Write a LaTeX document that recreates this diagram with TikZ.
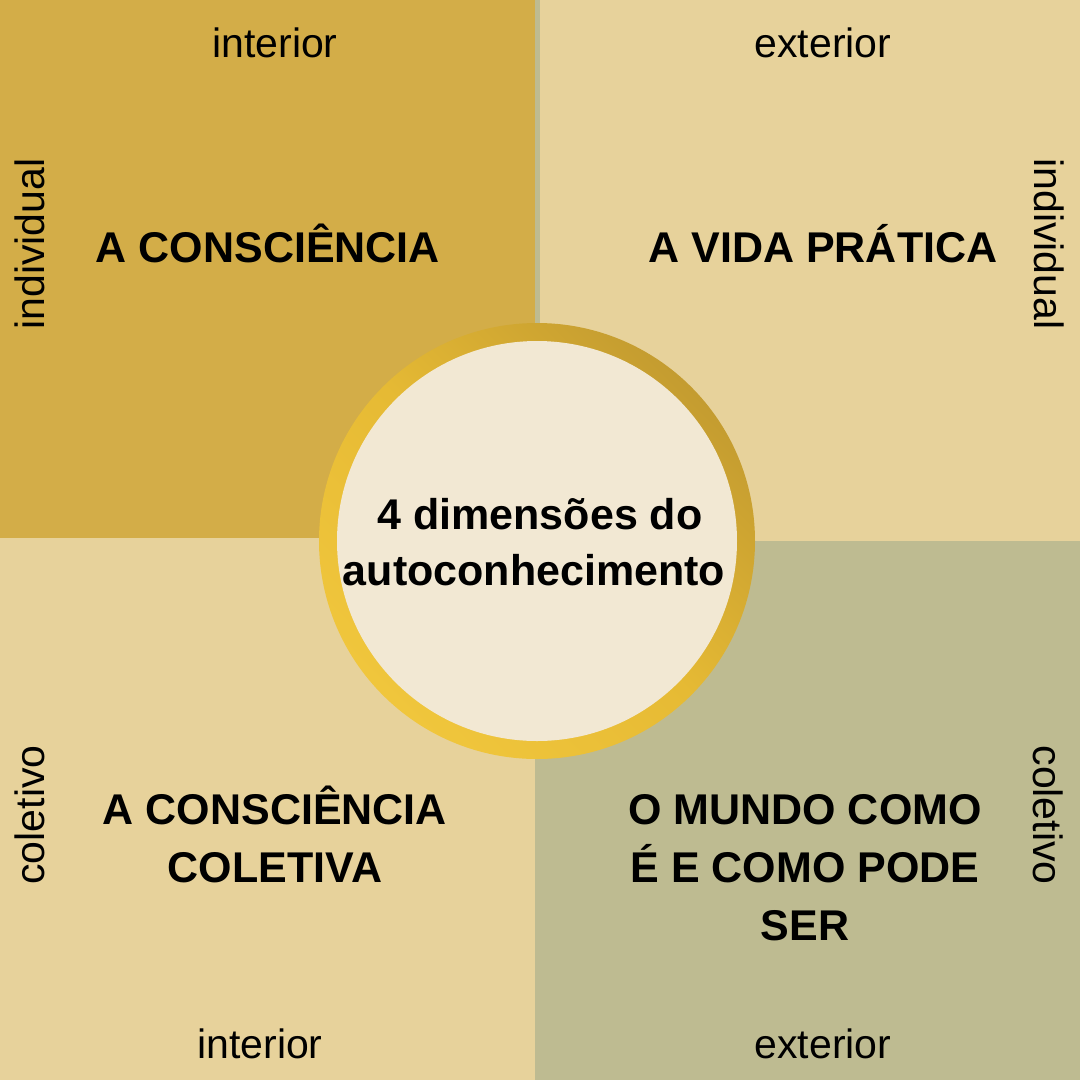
\documentclass[tikz,border=0pt]{standalone}
\usepackage{fontspec}
\setmainfont{Liberation Sans}
\definecolor{goldq}{HTML}{D3AD48}
\definecolor{beige}{HTML}{E7D29B}
\definecolor{sage}{HTML}{BEBB91}
\definecolor{cream}{HTML}{F2E8D3}
\definecolor{ringlight}{HTML}{F0C63C}
\definecolor{ringmid}{HTML}{E6BA34}
\definecolor{ringdark}{HTML}{C49C30}
\begin{document}
\begin{tikzpicture}[x=1pt,y=-1pt,
  small/.style={font=\fontsize{41}{44}\selectfont, text=black, inner sep=0pt, anchor=base},
  big/.style={font=\fontsize{43}{46}\selectfont\bfseries, text=black, inner sep=0pt, anchor=base}]
\useasboundingbox (0,0) rectangle (1080,1080);
\fill[sage] (0,0) rectangle (1080,1080);
\fill[goldq] (0,0) rectangle (535,538);
\fill[beige] (540,0) rectangle (1080,541);
\fill[beige] (0,538) rectangle (535,1080);
% ring
\shade[left color=ringdark, right color=ringlight, middle color=ringmid, shading angle=-45] (537,541) circle (218);
\fill[cream] (537,541) circle (200);
\node[big] (c1) at (540,529) {4 dimensões do};
\node[big] (c2) at (534,585) {autoconhecimento};
% quadrant titles
\node[big] (q1) at (268,262) {A CONSCIÊNCIA};
\node[big] (q2) at (823,262) {A VIDA PRÁTICA};
\node[big] (q3a) at (275,824) {A CONSCIÊNCIA};
\node[big] (q3b) at (275,882) {COLETIVA};
\node[big] (q4a) at (805,824) {O MUNDO COMO};
\node[big] (q4b) at (805,882) {É E COMO PODE};
\node[big] (q4c) at (805,940) {SER};
% axis labels
\node[small] (t1) at (275,57) {interior};
\node[small] (t2) at (823,57) {exterior};
\node[small] (b1) at (260,1058) {interior};
\node[small] (b2) at (823,1058) {exterior};
\node[small, rotate=90] (l1) at (44,244) {individual};
\node[small, rotate=-90] (r1) at (1034,244) {individual};
\node[small, rotate=90] (l2) at (45,815) {coletivo};
\node[small, rotate=-90] (r2) at (1033,815) {coletivo};
\end{tikzpicture}
\end{document}
